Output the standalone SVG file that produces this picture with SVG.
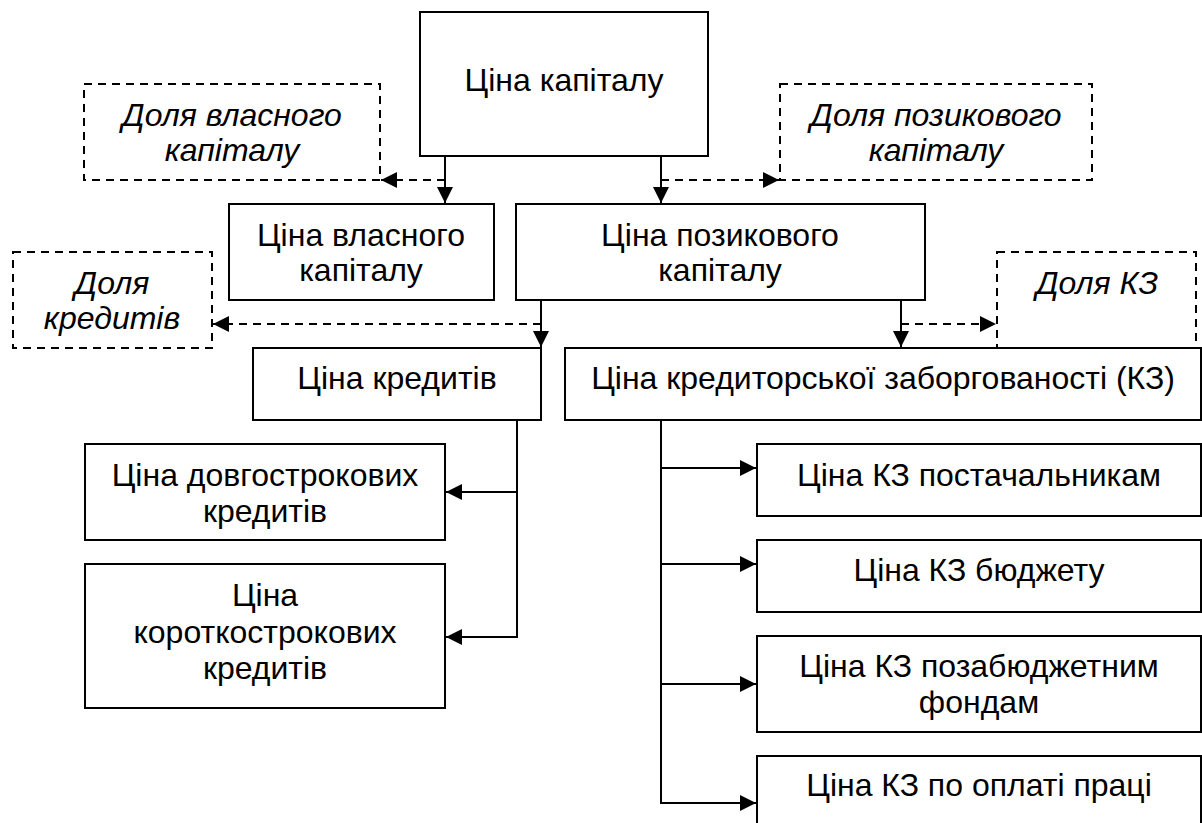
<svg xmlns="http://www.w3.org/2000/svg" width="1202" height="823" viewBox="0 0 1202 823">
<defs>
<style>
.box{fill:#fff;stroke:#000;stroke-width:2}
.dbox{fill:#fff;stroke:#000;stroke-width:2;stroke-dasharray:8,6}
.t{font-family:"Liberation Sans",Arial,sans-serif;font-size:32px;fill:#000;text-anchor:middle}
.i{font-style:italic}
.ln{fill:none;stroke:#000;stroke-width:2}
.dl{fill:none;stroke:#000;stroke-width:2;stroke-dasharray:8,6}
</style>
<marker id="ah" markerUnits="userSpaceOnUse" markerWidth="20" markerHeight="20" refX="16" refY="8" orient="auto">
<path d="M0,0 L16,8 L0,16 z" fill="#000"/>
</marker>
</defs>
<g id="connectors">
<path class="ln" d="M445,156 V203" marker-end="url(#ah)"/>
<path class="dl" d="M445,180 H381" marker-end="url(#ah)"/>
<path class="ln" d="M661,156 V203" marker-end="url(#ah)"/>
<path class="dl" d="M661,180 H779" marker-end="url(#ah)"/>
<path class="ln" d="M541,300 V347" marker-end="url(#ah)"/>
<path class="dl" d="M541,324 H213" marker-end="url(#ah)"/>
<path class="ln" d="M901,300 V347" marker-end="url(#ah)"/>
<path class="dl" d="M901,324 H996" marker-end="url(#ah)"/>
<path class="ln" d="M517,420 V637 H446" marker-end="url(#ah)"/>
<path class="ln" d="M517,492 H446" marker-end="url(#ah)"/>
<path class="ln" d="M661,420 V803 H756" marker-end="url(#ah)"/>
<path class="ln" d="M661,468 H756" marker-end="url(#ah)"/>
<path class="ln" d="M661,564 H756" marker-end="url(#ah)"/>
<path class="ln" d="M661,684 H756" marker-end="url(#ah)"/>
</g>
<g id="n_capital"><rect class="box" x="420" y="12" width="288" height="144"/><text class="t" x="564" y="91">Ціна капіталу</text></g>
<g id="n_share_own"><rect class="dbox" x="84" y="84" width="296" height="96"/><text class="t i" x="232" y="126">Доля власного</text><text class="t i" x="232" y="161">капіталу</text></g>
<g id="n_share_loan"><rect class="dbox" x="780" y="84" width="312" height="96"/><text class="t i" x="936" y="126">Доля позикового</text><text class="t i" x="936" y="161">капіталу</text></g>
<g id="n_own"><rect class="box" x="229" y="204" width="265" height="96"/><text class="t" x="361" y="246">Ціна власного</text><text class="t" x="361" y="281">капіталу</text></g>
<g id="n_loan"><rect class="box" x="516" y="204" width="409" height="96"/><text class="t" x="720" y="246">Ціна позикового</text><text class="t" x="720" y="281">капіталу</text></g>
<g id="n_share_credit"><rect class="dbox" x="13" y="252" width="199" height="96"/><text class="t i" x="112" y="294">Доля</text><text class="t i" x="112" y="329">кредитів</text></g>
<g id="n_share_kz"><rect class="dbox" x="997" y="252" width="199" height="96"/><text class="t i" x="1097" y="294">Доля КЗ</text></g>
<g id="n_credit"><rect class="box" x="253" y="348" width="288" height="72"/><text class="t" x="397" y="389">Ціна кредитів</text></g>
<g id="n_kz"><rect class="box" x="565" y="348" width="636" height="72"/><text class="t" x="883" y="389">Ціна кредиторської заборгованості (КЗ)</text></g>
<g id="n_long"><rect class="box" x="85" y="444" width="360" height="96"/><text class="t" x="265" y="486">Ціна довгострокових</text><text class="t" x="265" y="522">кредитів</text></g>
<g id="n_short"><rect class="box" x="85" y="564" width="360" height="144"/><text class="t" x="265" y="606">Ціна</text><text class="t" x="265" y="643">короткострокових</text><text class="t" x="265" y="679">кредитів</text></g>
<g id="n_kz_sup"><rect class="box" x="757" y="444" width="444" height="72"/><text class="t" x="979" y="486">Ціна КЗ постачальникам</text></g>
<g id="n_kz_bud"><rect class="box" x="757" y="540" width="444" height="72"/><text class="t" x="979" y="581">Ціна КЗ бюджету</text></g>
<g id="n_kz_fund"><rect class="box" x="757" y="636" width="444" height="96"/><text class="t" x="979" y="677">Ціна КЗ позабюджетним</text><text class="t" x="979" y="713">фондам</text></g>
<g id="n_kz_pay"><rect class="box" x="757" y="756" width="444" height="90"/><text class="t" x="979" y="796">Ціна КЗ по оплаті праці</text></g>
</svg>
